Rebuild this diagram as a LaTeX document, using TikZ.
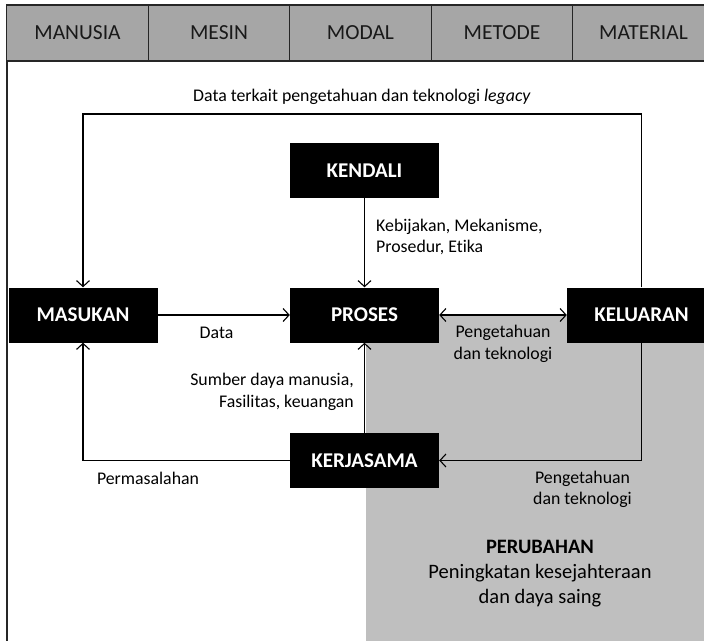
\documentclass[tikz,border=0pt]{standalone}
\usepackage{fontspec}
\setmainfont{Carlito}[Ligatures={NoCommon}]
\usetikzlibrary{arrows.meta}

\definecolor{kepala}{HTML}{A6A6A6}
\definecolor{latar}{HTML}{BFBFBF}

\tikzset{
  blok/.style={fill=black, text=white, font=\bfseries\fontsize{21}{25}\selectfont,
    minimum width=149pt, minimum height=55pt, inner sep=0pt},
  kolom/.style={draw=black!85, fill=kepala, line width=1.2pt, text=black!90,
    minimum width=141.5pt, minimum height=56pt, inner sep=0pt,
    font=\fontsize{21.5}{25}\selectfont},
  ket/.style={font=\fontsize{17.8}{21.5}\selectfont, inner sep=0pt},
  garis/.style={line width=1.1pt},
  panah/.style={garis, -{Straight Barb[length=6pt,width=13pt]}},
  panahdua/.style={garis, {Straight Barb[length=6pt,width=13pt]}-{Straight Barb[length=6pt,width=13pt]}}
}

\begin{document}
\begin{tikzpicture}[x=1pt,y=-1pt]
\useasboundingbox (0,0) rectangle (704,640);
\clip (0,0) rectangle (704,640);
\fill[white] (0,0) rectangle (704,640);
\fill[latar] (366,316) rectangle (720,660);
\draw[line width=1.4pt, black!85] (7,61) -- (7,660);
\foreach \nama [count=\i] in {MANUSIA,MESIN,MODAL,METODE,MATERIAL}
  \node[kolom] (kol\i) at ({77.5+141.5*(\i-1)},33) {\nama};

\node[blok] (kendali) at (364.5,170.5) {KENDALI};
\node[blok] (masukan) at (83,315) {MASUKAN};
\node[blok] (proses) at (364.5,315) {PROSES};
\node[blok] (keluaran) at (641.5,315) {KELUARAN};
\node[blok] (kerjasama) at (364.5,460.5) {KERJASAMA};
\coordinate (atas) at (0,114);

\draw[panah] (keluaran.north) -- (keluaran.north |- atas) -- (masukan.north |- atas) -- (masukan.north);
\draw[panah] (kendali) -- (proses);
\draw[panah] (masukan) -- (proses);
\draw[panahdua] (proses) -- (keluaran);
\draw[panah] (kerjasama) -- (proses);
\draw[panah] (kerjasama.west) -| (masukan.south);
\draw[panah] (keluaran.south) |- (kerjasama.east);

\node[ket] (tlegacy) at (362,97) {Data terkait pengetahuan dan teknologi \textit{legacy}};
\node[ket, anchor=west, align=left] (tkendali) at (376,237) {Kebijakan, Mekanisme,\\Prosedur, Etika};
\node[ket] (tdata) at (216.5,333) {Data};
\node[ket, align=center] (tpengetahuan) at (503,344) {Pengetahuan\\dan teknologi};
\node[ket, anchor=east, align=right] (tsumber) at (354,392) {Sumber daya manusia,\\Fasilitas, keuangan};
\node[ket] (tmasalah) at (148,478) {Permasalahan};
\node[ket, align=center] (tpengetahuan2) at (582.5,489.5) {Pengetahuan\\dan teknologi};
\node[align=center, inner sep=0pt, font=\fontsize{20.5}{25}\selectfont] (perubahan) at (540,574)
  {\textbf{PERUBAHAN}\\Peningkatan kesejahteraan\\dan daya saing};
\end{tikzpicture}
\end{document}
